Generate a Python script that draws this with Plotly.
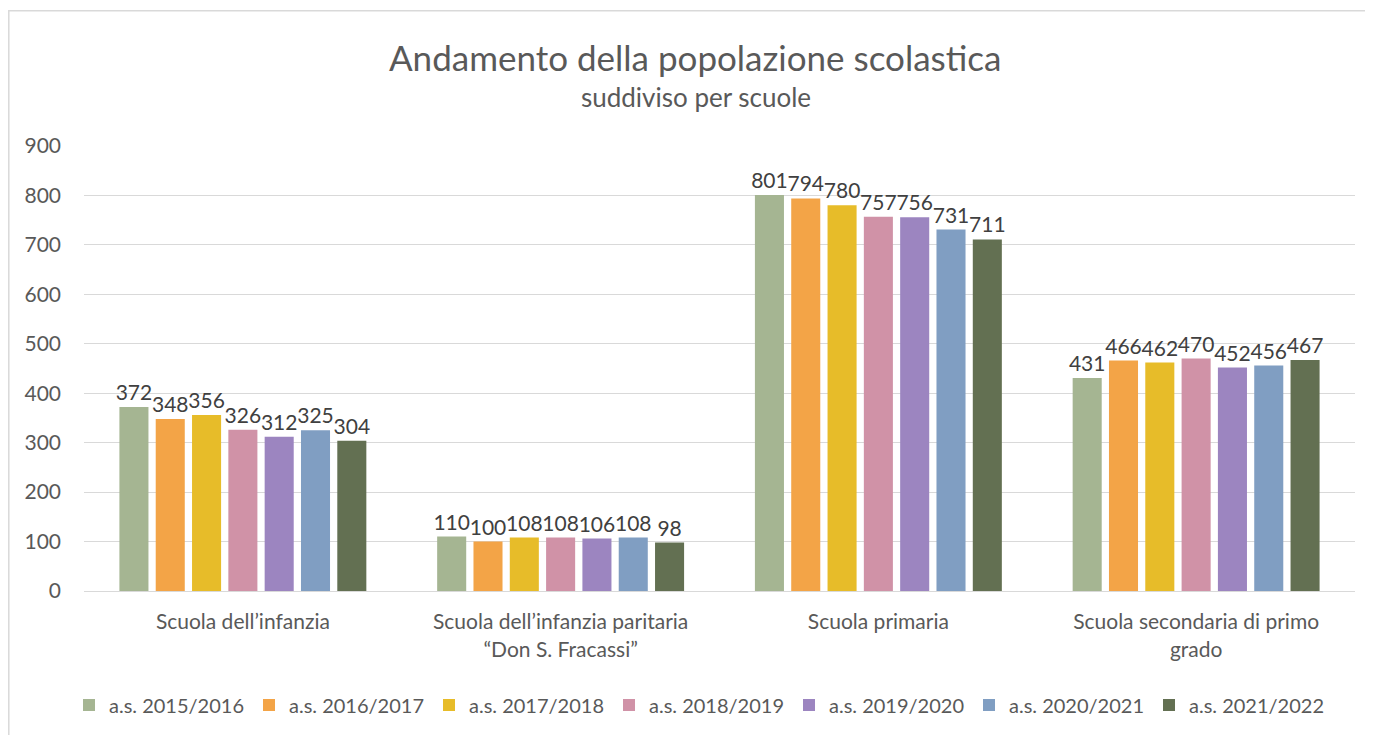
import plotly.graph_objects as go

categories = ["Scuola dell’infanzia",
              "Scuola dell’infanzia paritaria<br>“Don S. Fracassi”",
              "Scuola primaria",
              "Scuola secondaria di primo<br>grado"]
series_names = ["a.s. 2015/2016", "a.s. 2016/2017", "a.s. 2017/2018", "a.s. 2018/2019",
                "a.s. 2019/2020", "a.s. 2020/2021", "a.s. 2021/2022"]
as_2015 = [372, 110, 801, 431]
as_2016 = [348, 100, 794, 466]
as_2017 = [356, 108, 780, 462]
as_2018 = [326, 108, 757, 470]
as_2019 = [312, 106, 756, 452]
as_2020 = [325, 108, 731, 456]
as_2021 = [304, 98, 711, 467]
values = [as_2015, as_2016, as_2017, as_2018, as_2019, as_2020, as_2021]
colors = ["#A5B592", "#F3A447", "#E7BC29", "#D092A7", "#9C85C0", "#809EC2", "#637052"]
y_ticks = [0, 100, 200, 300, 400, 500, 600, 700, 800, 900]

FONT = "Lato"
fig = go.Figure()
for name, vals, col in zip(series_names, values, colors):
    fig.add_trace(go.Bar(
        x=categories, y=vals, name=name, marker=dict(color=col, line=dict(width=0)),
        text=[str(v) for v in vals], textposition="outside", constraintext="none",
        cliponaxis=False,
        textfont=dict(family=FONT, size=21, color="#404040"),
    ))

OFF = 8  # page body margin
W, H = 1365, 727
L, R, T, B = 84 - OFF, 18, 146 - OFF, 144
pw, ph = W - L - R, H - T - B

def px(x):
    return (x - OFF - L) / pw

def py(y):
    return (H - B - (y - OFF)) / ph

fig.update_layout(
    width=W, height=H,
    margin=dict(l=L, r=R, t=T, b=B, autoexpand=False),
    paper_bgcolor="white", plot_bgcolor="white",
    barmode="group", bargap=0.2, bargroupgap=0.2,
    font=dict(family=FONT, color="#595959"),
    showlegend=True,
    legend=dict(orientation="h", x=px(699), xanchor="center", y=py(705), yanchor="middle",
                font=dict(family=FONT, size=20, color="#595959"), traceorder="normal",
                itemwidth=30),
    xaxis=dict(showgrid=False, showline=True, linecolor="#D9D9D9", linewidth=1,
               ticks="", tickfont=dict(family=FONT, size=21, color="#595959"),
               ticklabelstandoff=12),
    yaxis=dict(range=[0, 900], tickvals=y_ticks, showgrid=True, gridcolor="#D9D9D9",
               gridwidth=1, zeroline=False, showline=False, ticks="",
               tickfont=dict(family=FONT, size=21, color="#595959"), ticklabelstandoff=22),
    annotations=[
        dict(text="Andamento della popolazione scolastica", xref="paper", yref="paper",
             x=px(695), y=py(57), xanchor="center", yanchor="middle", showarrow=False,
             font=dict(family=FONT, size=35, color="#595959")),
        dict(text="suddiviso per scuole", xref="paper", yref="paper",
             x=px(696), y=py(97), xanchor="center", yanchor="middle", showarrow=False,
             font=dict(family=FONT, size=26, color="#595959")),
    ],
    shapes=[dict(type="rect", xref="paper", yref="paper",
                 x0=px(8.8), x1=px(1400), y0=py(760), y1=py(10.8),
                 line=dict(color="#D9D9D9", width=1.5), fillcolor="rgba(0,0,0,0)", layer="below")],
)
fig.write_html("out.html")
